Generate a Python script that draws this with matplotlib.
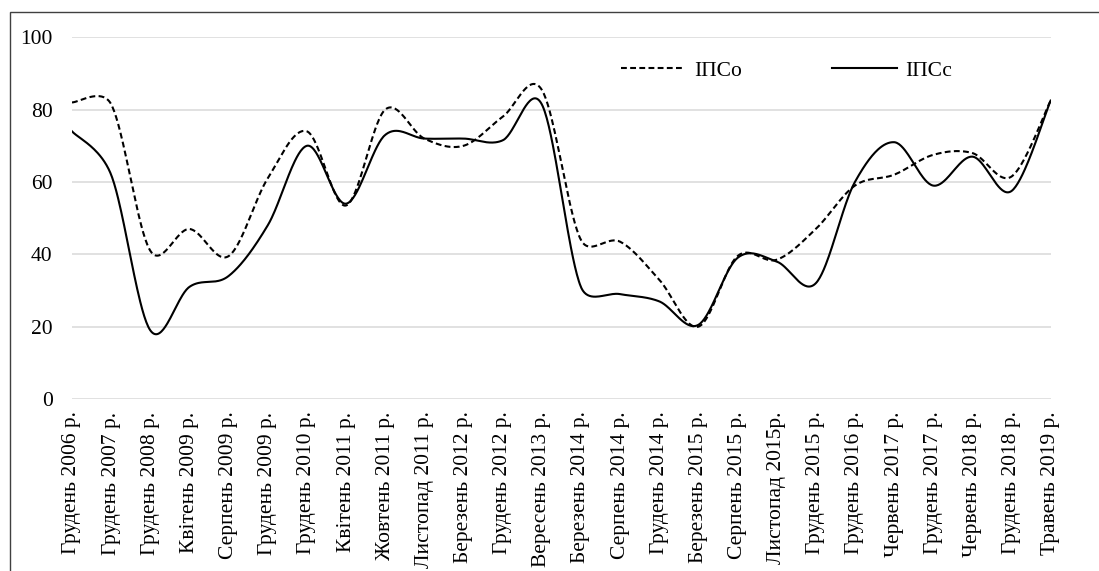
import numpy as np
import matplotlib
matplotlib.use("Agg")
import matplotlib.pyplot as plt
from matplotlib.patches import Rectangle

plt.rcParams['font.family'] = ['Liberation Serif', 'DejaVu Serif']

# ---------- DATA ----------
labels = ["Грудень 2006 р.", "Грудень 2007 р.", "Грудень 2008 р.", "Квітень 2009 р.",
          "Серпень 2009 р.", "Грудень 2009 р.", "Грудень 2010 р.", "Квітень 2011 р.",
          "Жовтень 2011 р.", "Листопад 2011 р.", "Березень 2012 р.", "Грудень 2012 р.",
          "Вересень 2013 р.", "Березень 2014 р.", "Серпень 2014 р.", "Грудень 2014 р.",
          "Березень 2015 р.", "Серпень 2015 р.", "Листопад 2015р.", "Грудень 2015 р.",
          "Грудень 2016 р.", "Червень 2017 р.", "Грудень 2017 р.", "Червень 2018 р.",
          "Грудень 2018 р.", "Травень 2019 р."]

ips_o = [82, 81.5, 41, 47, 39.5, 61, 74, 53.5, 80, 72, 70, 78, 85.5,
         44, 43.5, 33, 20, 39.5, 38.5, 47, 59, 62, 67.5, 68, 61.5, 82.5]
ips_c = [74, 62, 19, 31, 34, 48, 70, 54, 73, 72, 72, 71.5, 81.5,
         31, 29, 27, 20.5, 39, 38, 32, 60, 71, 59, 67, 57.5, 82.5]


# ---------- EXCEL-LIKE SMOOTH LINE ----------
def excel_smooth(xs, ys, sx, sy, n=40):
    P = np.column_stack([np.asarray(xs, float) * sx, np.asarray(ys, float) * sy])
    m = len(P)
    parts = []
    for i in range(m - 1):
        p0 = P[i - 1] if i > 0 else P[i]
        p1, p2 = P[i], P[i + 1]
        p3 = P[i + 2] if i + 2 < m else P[i + 1]
        d12 = np.hypot(*(p2 - p1))
        d02 = np.hypot(*(p2 - p0))
        d13 = np.hypot(*(p3 - p1))
        f = 1 / 6 if d02 / 6 < d12 / 2 else d12 / (2 * d02)
        g = 1 / 6 if d13 / 6 < d12 / 2 else d12 / (2 * d13)
        c1 = p1 + f * (p2 - p0)
        c2 = p2 - g * (p3 - p1)
        t = np.linspace(0, 1, n)[:, None]
        b = (1 - t) ** 3 * p1 + 3 * (1 - t) ** 2 * t * c1 + 3 * (1 - t) * t ** 2 * c2 + t ** 3 * p2
        parts.append(b if i == 0 else b[1:])
    b = np.vstack(parts)
    return b[:, 0] / sx, b[:, 1] / sy


# ---------- PLOT ----------
fig = plt.figure(figsize=(10.99, 5.71), dpi=100)
ax = fig.add_axes([0.0655, 0.3012, 0.8905, 0.6335])

x = np.arange(len(labels))
sx = 979.0 / (len(labels) - 1)   # px per category
sy = 3.62                         # px per unit

xo, yo = excel_smooth(x, ips_o, sx, sy)
xc, yc = excel_smooth(x, ips_c, sx, sy)
ax.plot(xo, yo, color='black', linewidth=1.5, dashes=(2.8, 1.6), label='ІПСо')
ax.plot(xc, yc, color='black', linewidth=1.5, label='ІПСс')

ax.set_xlim(0, len(labels) - 1)
ax.set_ylim(0, 100)
ax.set_yticks(range(0, 101, 20))
ax.set_xticks(x)
ax.set_xticklabels(labels, rotation=90, fontsize=15.5)
ax.tick_params(axis='y', labelsize=15.5, length=0, pad=14)
ax.tick_params(axis='x', length=0, pad=9)
ax.grid(axis='y', color='#d9d9d9', linewidth=1.1)
ax.set_axisbelow(True)
for s in ax.spines.values():
    s.set_visible(False)

ax.legend(loc='center', bbox_to_anchor=(0.73, 0.907), ncol=2, frameon=False,
          fontsize=15.5, handlelength=3.0, handletextpad=0.4, columnspacing=4.2,
          borderpad=0)

# outer chart border (right and bottom edges lie outside the picture)
fig.patches.append(Rectangle((10 / 1099, -0.2), 1.2, 1.2 - 12.3 / 571,
                             transform=fig.transFigure, fill=False,
                             edgecolor='#404040', linewidth=1.0))

fig.savefig("out.png", dpi=100)
